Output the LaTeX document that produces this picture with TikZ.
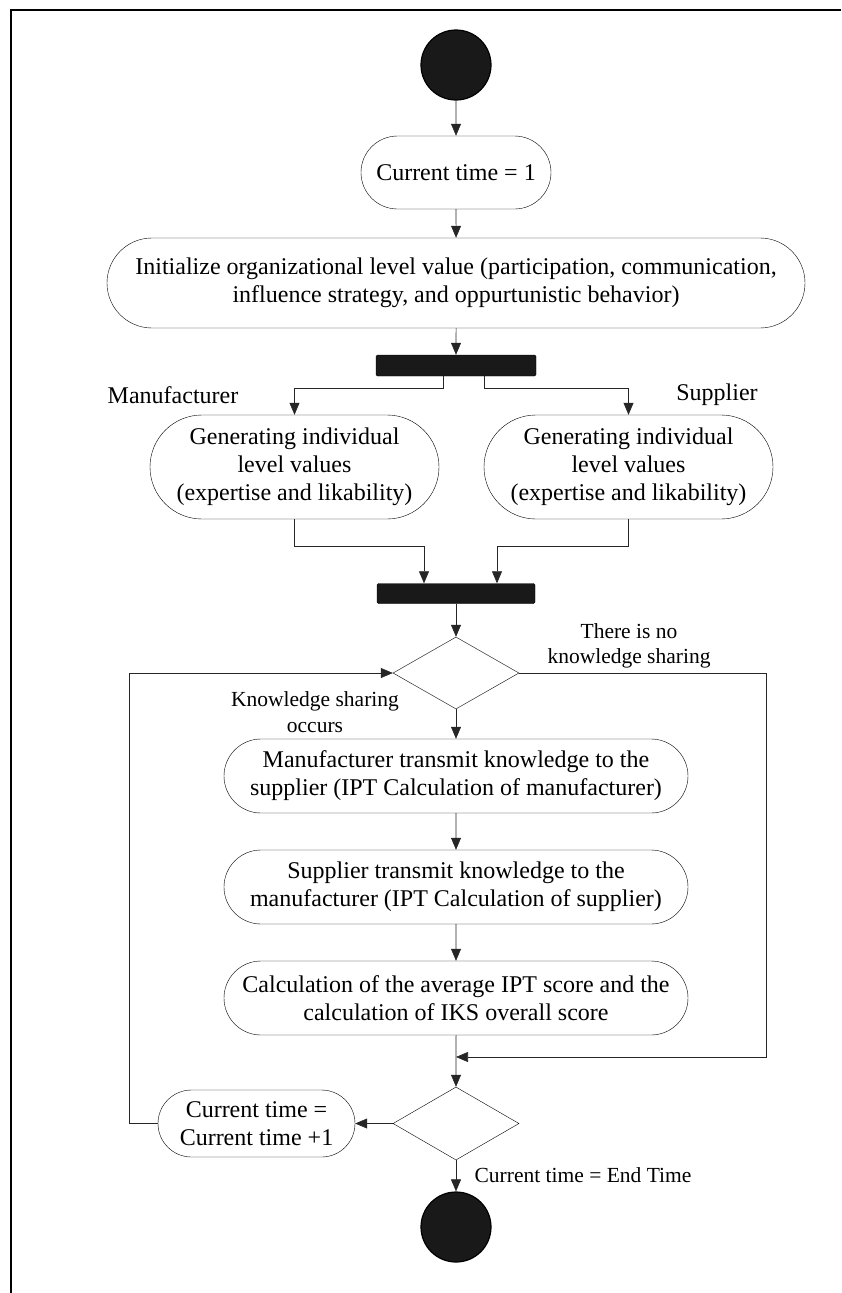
\documentclass[tikz,border=0pt]{standalone}
\usepackage{fontspec}
\setmainfont{Liberation Serif}
\usetikzlibrary{arrows.meta,shapes.misc,shapes.geometric}
\begin{document}
\begin{tikzpicture}[x=1pt,y=-1pt,
  act/.style={draw, rounded rectangle, align=center, inner sep=0pt, font=\fontsize{24}{28}\selectfont},
  bar/.style={draw, fill=black!90, minimum width=160, minimum height=21, inner sep=0pt, rounded corners=1.5},
  dot/.style={circle, draw, line width=1.2pt, fill=black!90, minimum size=70, inner sep=0pt},
  dec/.style={diamond, draw, minimum width=126, minimum height=72, inner sep=0pt},
  lbl/.style={align=center, inner sep=0pt, font=\fontsize{21.5}{25.5}\selectfont},
  arr/.style={draw=black!85, line width=0.6pt, -{Triangle[length=12pt,width=10pt]}}]
\useasboundingbox (0,0) rectangle (841,1293);
\draw[line width=2.5pt] (11,1293) -- (11,10) -- (841,10);

\node[dot] (start) at (456,65){};
\node[act, minimum width=190, minimum height=73] (cur) at (456,172.5){Current time = 1};
\node[act, minimum width=698, minimum height=90] (init) at (456,283){Initialize organizational level value (participation, communication,\\influence strategy, and oppurtunistic behavior)};
\draw[arr](start) -- (cur);
\draw[arr](cur) -- (init);
\node[bar] (fork) at (456,365.5){};
\draw[arr](init) -- (fork);
\node[lbl, font=\fontsize{24}{28}\selectfont] (mlab) at (173,395){Manufacturer};
\node[lbl, font=\fontsize{24}{28}\selectfont] (slab) at (717,395){Supplier};
\node[act, minimum width=289, minimum height=104] (mgen) at (294.5,467){Generating individual\\level values\\(expertise and likability)};
\node[act, minimum width=289, minimum height=104] (sgen) at (628.5,467){Generating individual\\level values\\(expertise and likability)};
\draw[arr]([xshift=-13pt]fork.south) -- ++(0,12) -| (mgen.north);
\draw[arr]([xshift=28pt]fork.south) -- ++(0,12) -| (sgen.north);
\node[bar, minimum width=158, minimum height=20] (join) at (456,593.5){};
\draw[arr](mgen.south) -- ++(0,27) -| ([xshift=-32pt]join.north);
\draw[arr](sgen.south) -- ++(0,27) -| ([xshift=41pt]join.north);

\node[dec] (dec1) at (456,673){};
\draw[arr](join) -- (dec1);
\node[lbl] (nolab) at (629,646){There is no\\knowledge sharing};
\node[lbl] (yeslab) at (315,712){Knowledge sharing\\occurs};
\node[act, minimum width=464, minimum height=74] (mtr) at (456,776){Manufacturer transmit knowledge to the\\supplier (IPT Calculation of manufacturer)};
\node[act, minimum width=464, minimum height=74] (str) at (456,887){Supplier transmit knowledge to the\\manufacturer (IPT Calculation of supplier)};
\node[act, minimum width=464, minimum height=74] (calc) at (456,998){Calculation of the average IPT score and the\\calculation of IKS overall score};
\draw[arr](dec1) -- (mtr);
\draw[arr](mtr) -- (str);
\draw[arr](str) -- (calc);

\coordinate (merge) at (456,1057);
\node[dec, minimum height=73] (dec2) at (456,1123.5){};
\draw[arr](calc) -- (dec2);
\draw[arr](dec1.east) -- ++(247,0) |- (merge);
\node[act, minimum width=197, minimum height=67] (inc) at (256.5,1123.5){Current time =\\Current time +1};
\draw[arr](dec2) -- (inc);
\draw[arr](inc.west) -- ++(-29,0) |- (dec1.west);
\node[dot] (stop) at (456,1227){};
\draw[arr](dec2) -- (stop);
\node[lbl] (endlab) at (583,1175){Current time = End Time};

\end{tikzpicture}
\end{document}
